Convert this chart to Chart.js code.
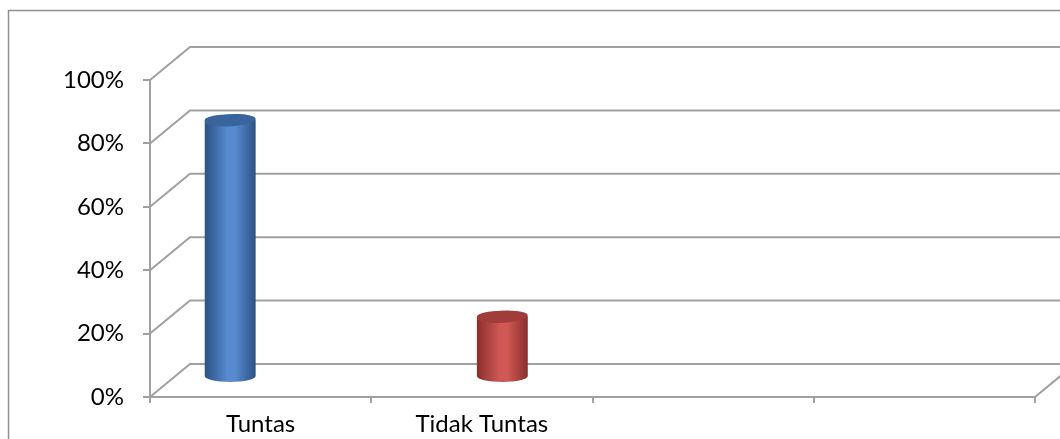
<!DOCTYPE html>
<html>
<head>
<meta charset="utf-8">
<script src="https://cdn.jsdelivr.net/npm/chart.js@4"></script>
<style>
  html, body { margin: 0; padding: 0; background: #fff; }
  #wrap { width: 1060px; height: 439px; position: relative; }
</style>
</head>
<body>
<div id="wrap"><canvas id="chart" width="1060" height="439"></canvas></div>
<script>

const categories = ["Tuntas", "Tidak Tuntas", "", ""];
const tuntas = [81, null, null, null];
const tidakTuntas = [null, 19, null, null];
const yTicks = [0, 20, 40, 60, 80, 100];

const gridColor = "#a0a0a0";
const depthX = 40, depthY = -33;   // back wall offset
const barDX = -5, barDY = -20;     // cylinders sit inside the box

/* 3D box: back wall grid, side diagonals, floor */
const wallPlugin = {
  id: "wall",
  beforeDatasetsDraw(chart){
    const ctx = chart.ctx;
    const y = chart.scales.y;
    const area = chart.chartArea;
    ctx.save();
    ctx.strokeStyle = gridColor;
    ctx.lineWidth = 2;
    yTicks.forEach(v=>{
      const py = y.getPixelForValue(v);
      ctx.beginPath();
      ctx.moveTo(area.left, py);
      ctx.lineTo(area.left + depthX, py + depthY);
      ctx.lineTo(chart.width + 5, py + depthY);
      ctx.stroke();
    });
    // right floor edge
    ctx.beginPath();
    ctx.moveTo(area.right, area.bottom);
    ctx.lineTo(area.right + depthX, area.bottom + depthY);
    ctx.stroke();
    // outer frame
    ctx.strokeStyle = "#8f8f8f";
    ctx.lineWidth = 1.5;
    ctx.beginPath();
    ctx.moveTo(8.5, chart.height + 5);
    ctx.lineTo(8.5, 10.5);
    ctx.lineTo(chart.width + 5, 10.5);
    ctx.stroke();
    ctx.restore();
  }
};

/* cylinders drawn over each bar element */
const cylinderPlugin = {
  id: "cylinders",
  afterDatasetsDraw(chart){
    const ctx = chart.ctx;
    const palette = [
      {dark:"#2b5282", light:"#578ad0", top:"#3a659c"},
      {dark:"#8a2f2d", light:"#cf5855", top:"#a03d3b"}
    ];
    chart.data.datasets.forEach((ds, di)=>{
      const meta = chart.getDatasetMeta(di);
      const c = palette[di];
      meta.data.forEach((bar, i)=>{
        if(ds.data[i] == null) return;
        const p = bar.getProps(["x","y","base","width"], true);
        const cx = p.x + barDX;
        const rx = p.width / 2;
        const ry = 6;
        const top = p.y + barDY;
        const bottom = p.base + barDY;
        const g = ctx.createLinearGradient(cx - rx, 0, cx + rx, 0);
        g.addColorStop(0, c.dark);
        g.addColorStop(0.45, c.light);
        g.addColorStop(0.6, c.light);
        g.addColorStop(1, c.dark);
        ctx.save();
        ctx.fillStyle = g;
        ctx.beginPath();
        ctx.moveTo(cx - rx, top);
        ctx.lineTo(cx - rx, bottom);
        ctx.ellipse(cx, bottom, rx, ry, 0, Math.PI, 0, true);
        ctx.lineTo(cx + rx, top);
        ctx.ellipse(cx, top, rx, ry, 0, 0, Math.PI, true);
        ctx.closePath();
        ctx.fill();
        ctx.fillStyle = c.top;
        ctx.beginPath();
        ctx.ellipse(cx, top, rx, ry, -0.06, 0, Math.PI * 2);
        ctx.fill();
        ctx.restore();
      });
    });
  }
};

Chart.defaults.font.family = "Lato, 'Open Sans', sans-serif";
Chart.defaults.color = "#000";

new Chart(document.getElementById("chart"),{
  type:"bar",
  data:{
    labels:categories,
    datasets:[
      {label:"Tuntas", data:tuntas, backgroundColor:"rgba(0,0,0,0)"},
      {label:"Tidak Tuntas", data:tidakTuntas, backgroundColor:"rgba(0,0,0,0)"}
    ]
  },
  options:{
    responsive:false,
    animation:false,
    layout:{padding:{top:80, right:25, left:0, bottom:0}},
    categoryPercentage:0.46,
    barPercentage:1,
    plugins:{legend:{display:false}, tooltip:{enabled:false}},
    scales:{
      x:{
        grid:{display:true, drawOnChartArea:false, tickLength:6, color:gridColor, lineWidth:2},
        border:{display:true, color:gridColor, width:2},
        ticks:{font:{size:24}, padding:7, maxRotation:0},
        afterFit(scale){ scale.height = 42; }
      },
      y:{
        min:0, max:100,
        afterBuildTicks(scale){ scale.ticks = yTicks.map(v=>({value:v})); },
        grid:{display:true, drawOnChartArea:false, tickLength:7, color:gridColor, lineWidth:2},
        border:{display:true, color:gridColor, width:2},
        ticks:{font:{size:24}, padding:19, callback:v=>v + "%"},
        afterFit(scale){ scale.width = 150; }
      }
    }
  },
  plugins:[wallPlugin, cylinderPlugin]
});

</script>
</body>
</html>
